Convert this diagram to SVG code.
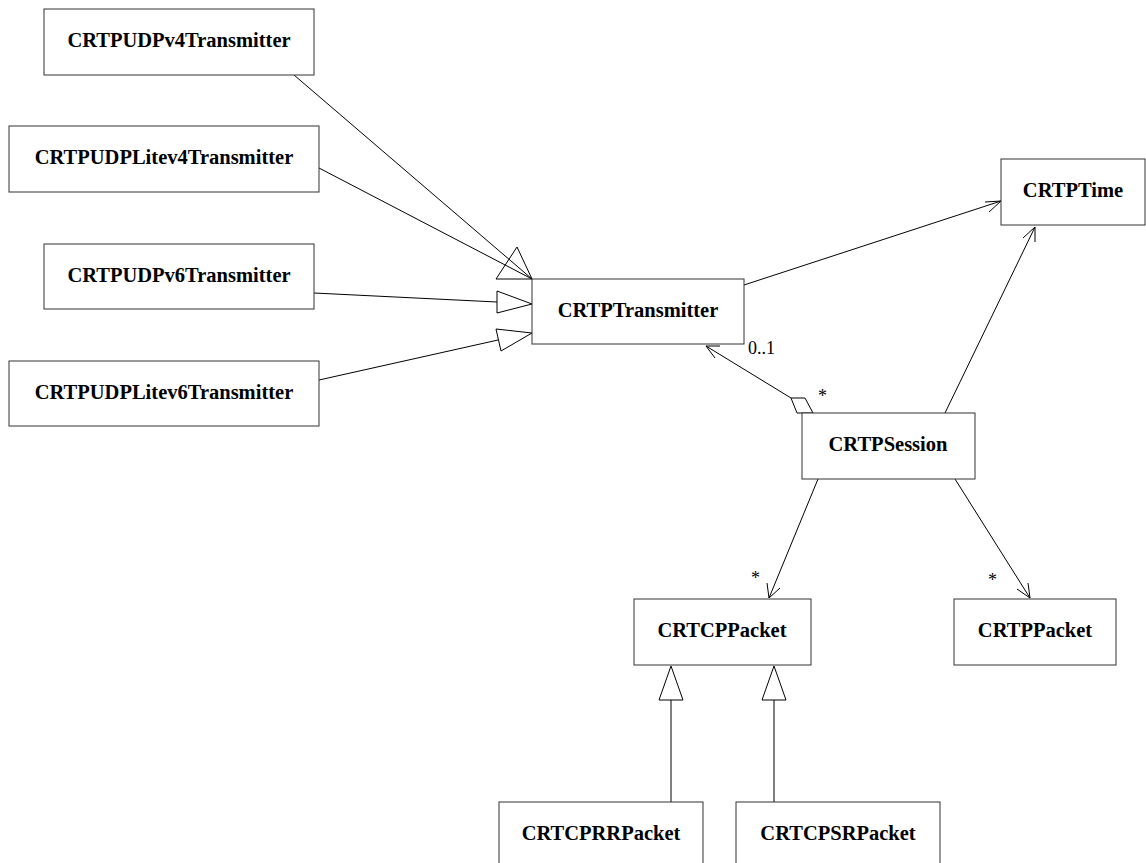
<svg xmlns="http://www.w3.org/2000/svg" width="1146" height="863" viewBox="0 0 1146 863">
<style>
.box{fill:#fff;stroke:#333;stroke-width:1}
.t{font-family:"Liberation Serif","Times New Roman",serif;font-weight:bold;font-size:20.5px;fill:#000;text-anchor:middle}
.l{font-family:"Liberation Serif","Times New Roman",serif;font-size:18px;fill:#000}
.c{fill:none;stroke:#000;stroke-width:1}
.h{fill:#fff;stroke:#000;stroke-width:1}
.o{fill:none;stroke:#000;stroke-width:1}
</style>
<rect width="1146" height="863" fill="#fff"/>
<g id="connectors">
<!-- generalizations to CRTPTransmitter -->
<line class="c" x1="294" y1="75" x2="532" y2="279"/>
<line class="c" x1="319" y1="168" x2="532" y2="279"/>
<polygon class="o" points="532,279 517,247 496,279"/>
<line class="c" x1="314" y1="293" x2="497" y2="302"/>
<polygon class="h" points="532,304 497,291 497,313"/>
<line class="c" x1="319" y1="380" x2="498" y2="340"/>
<polygon class="h" points="532,333 496,329 501,351"/>
<!-- Transmitter -> Time -->
<line class="c" x1="744" y1="285" x2="1001" y2="201"/>
<polyline class="c" points="985,202 1001,201 989,212"/>
<!-- Session -> Time -->
<line class="c" x1="945" y1="413" x2="1035" y2="227"/>
<polyline class="c" points="1023,238 1035,227 1035,242"/>
<!-- Session aggregation -> Transmitter -->
<line class="c" x1="791" y1="398" x2="706" y2="346"/>
<polyline class="c" points="720,346 706,346 715,358"/>
<polygon class="h" points="791,398 805,398 813,413 797,413"/>
<!-- Session -> CRTCPPacket -->
<line class="c" x1="818" y1="479" x2="769" y2="598"/>
<polyline class="c" points="767,583 769,598 780,588"/>
<!-- Session -> CRTPPacket -->
<line class="c" x1="955" y1="479" x2="1030" y2="598"/>
<polyline class="c" points="1017,589 1030,598 1028,583"/>
<!-- generalizations to CRTCPPacket -->
<line class="c" x1="671" y1="802" x2="671" y2="700"/>
<polygon class="h" points="671,666 659,700 683,700"/>
<line class="c" x1="774" y1="802" x2="774" y2="700"/>
<polygon class="h" points="774,666 762,700 786,700"/>
<text class="l" x="748" y="354">0..1</text>
<text class="l" x="818" y="402">*</text>
<text class="l" x="751" y="584">*</text>
<text class="l" x="988" y="586">*</text>
</g>
<g id="CRTPUDPv4Transmitter"><rect class="box" x="44" y="9" width="270" height="66"/><text class="t" x="179" y="47">CRTPUDPv4Transmitter</text></g>
<g id="CRTPUDPLitev4Transmitter"><rect class="box" x="9" y="126" width="310" height="66"/><text class="t" x="164" y="164">CRTPUDPLitev4Transmitter</text></g>
<g id="CRTPUDPv6Transmitter"><rect class="box" x="44" y="244" width="270" height="65"/><text class="t" x="179" y="282">CRTPUDPv6Transmitter</text></g>
<g id="CRTPUDPLitev6Transmitter"><rect class="box" x="9" y="361" width="310" height="65"/><text class="t" x="164" y="399">CRTPUDPLitev6Transmitter</text></g>
<g id="CRTPTransmitter"><rect class="box" x="532" y="279" width="212" height="65"/><text class="t" x="638" y="317">CRTPTransmitter</text></g>
<g id="CRTPTime"><rect class="box" x="1001" y="159" width="144" height="66"/><text class="t" x="1073" y="197">CRTPTime</text></g>
<g id="CRTPSession"><rect class="box" x="802" y="413" width="173" height="66"/><text class="t" x="888" y="451">CRTPSession</text></g>
<g id="CRTCPPacket"><rect class="box" x="634" y="599" width="177" height="66"/><text class="t" x="722" y="637">CRTCPPacket</text></g>
<g id="CRTPPacket"><rect class="box" x="954" y="599" width="162" height="66"/><text class="t" x="1035" y="637">CRTPPacket</text></g>
<g id="CRTCPRRPacket"><rect class="box" x="499" y="802" width="204" height="70"/><text class="t" x="601" y="840">CRTCPRRPacket</text></g>
<g id="CRTCPSRPacket"><rect class="box" x="736" y="802" width="204" height="70"/><text class="t" x="838" y="840">CRTCPSRPacket</text></g>
</svg>
